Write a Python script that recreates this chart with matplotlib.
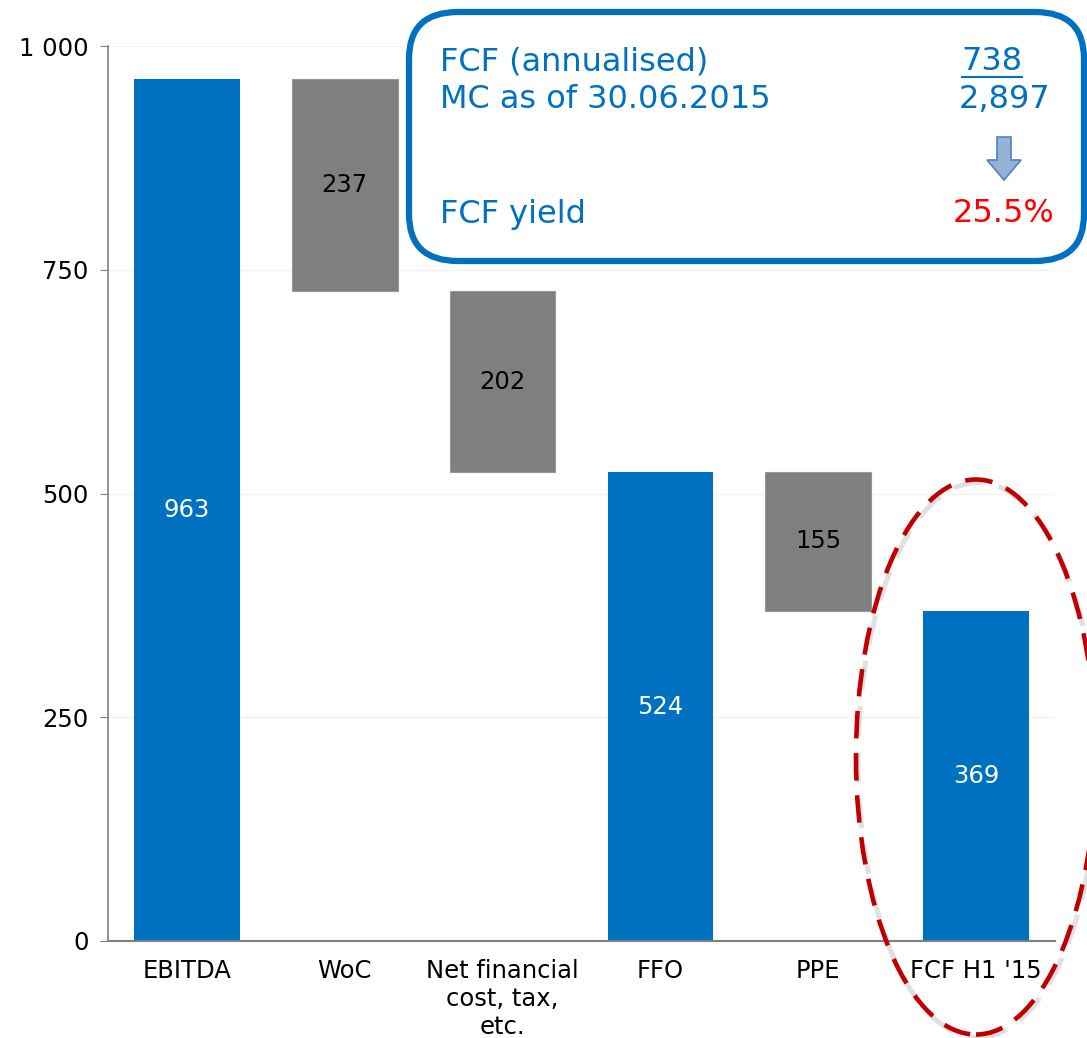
import matplotlib
matplotlib.use("Agg")
import matplotlib.pyplot as plt
from matplotlib.patches import FancyBboxPatch, Ellipse, FancyArrow

# data
categories = ["EBITDA", "WoC", "Net financial\ncost, tax,\netc.", "FFO", "PPE", "FCF H1 '15"]
values = [963, -237, -202, 524, -155, 369]
is_total = [True, False, False, True, False, True]
yticks = [0, 250, 500, 750, 1000]
ytick_labels = ["0", "250", "500", "750", "1 000"]

blue = "#0070C0"
grey = "#7F7F7F"

fig = plt.figure(figsize=(10.87, 10.38), dpi=100)
ax = fig.add_axes([108/1087, 97/1038, (1055-108)/1087, (992-97)/1038])

running = 0
for i, (v, tot) in enumerate(zip(values, is_total)):
    if tot:
        running = v
        ax.bar(i, v, width=0.67, color=blue, zorder=2)
        ax.text(i, v / 2, str(v), ha="center", va="center", color="white", fontsize=17.5, zorder=3)
    else:
        running = running + v
        ax.bar(i, -v, bottom=running, width=0.67, color=grey, edgecolor="#999999", linewidth=0.8, zorder=2)
        ax.text(i, running - v / 2, str(-v), ha="center", va="center", color="black", fontsize=17.5, zorder=3)

ax.set_xlim(-0.5, 5.5)
ax.set_ylim(0, 1000)
ax.set_xticks(range(len(categories)))
ax.set_xticklabels(categories, fontsize=17.5, linespacing=1.2)
ax.set_yticks(yticks)
ax.set_yticklabels(ytick_labels, fontsize=17.5)
ax.tick_params(axis="x", length=0, pad=13)
ax.tick_params(axis="y", length=6, color="#808080", pad=8)
ax.yaxis.grid(True, color="#F2F2F2", linewidth=1, zorder=0)
ax.set_axisbelow(True)
for s in ["top", "right"]:
    ax.spines[s].set_visible(False)
ax.spines["left"].set_color("#808080")
ax.spines["bottom"].set_color("#808080")
ax.spines["left"].set_linewidth(1.2)
ax.spines["bottom"].set_linewidth(1.5)

# info box (figure pixel coords)
W, H = 1087, 1038
def fx(x): return x / W
def fy(y): return 1 - y / H

box = FancyBboxPatch((fx(409), fy(261)), fx(1084) - fx(409), fy(12) - fy(261),
                     boxstyle="round,pad=0,rounding_size=0.045",
                     transform=fig.transFigure, facecolor="white", edgecolor=blue,
                     linewidth=4.5, zorder=5)
fig.patches.append(box)

fs = 23
fig.text(fx(440), fy(62), "FCF (annualised)", color=blue, fontsize=fs, va="center", ha="left", zorder=6)
fig.text(fx(440), fy(100), "MC as of 30.06.2015", color=blue, fontsize=fs, va="center", ha="left", zorder=6)
fig.text(fx(440), fy(214), "FCF yield", color=blue, fontsize=fs, va="center", ha="left", zorder=6)
fig.text(fx(1022), fy(62), "738", color=blue, fontsize=fs, va="center", ha="right", zorder=6)
fig.add_artist(plt.Line2D([fx(962), fx(1022)], [fy(77), fy(77)], transform=fig.transFigure,
                          color=blue, linewidth=1.5, zorder=6))
fig.text(fx(1050), fy(100), "2,897", color=blue, fontsize=fs, va="center", ha="right", zorder=6)
fig.text(fx(1054), fy(214), "25.5%", color="#FF0000", fontsize=fs, va="center", ha="right", zorder=6)

arrow = FancyArrow(fx(1004), fy(137), 0, fy(180) - fy(137), width=fx(14), head_width=fx(34),
                   head_length=(fy(160) - fy(180)), length_includes_head=True,
                   transform=fig.transFigure, facecolor="#95B3D7", edgecolor="#4F81BD",
                   linewidth=1.2, zorder=6)
fig.patches.append(arrow)

# dashed ellipse highlight with a soft shadow
dash = (0, (6, 3.2))
shadow = Ellipse((fx(978), fy(760)), fx(240), fy(480) - fy(1035), transform=fig.transFigure,
                 fill=False, edgecolor="#9A9A9A", alpha=0.3, linewidth=3.6, linestyle=dash, zorder=7)
fig.patches.append(shadow)
ell = Ellipse((fx(976), fy(757)), fx(240), fy(480) - fy(1035), transform=fig.transFigure,
              fill=False, edgecolor="#C00000", linewidth=3.3, linestyle=dash, zorder=7)
fig.patches.append(ell)

fig.savefig("out.png", dpi=100)
